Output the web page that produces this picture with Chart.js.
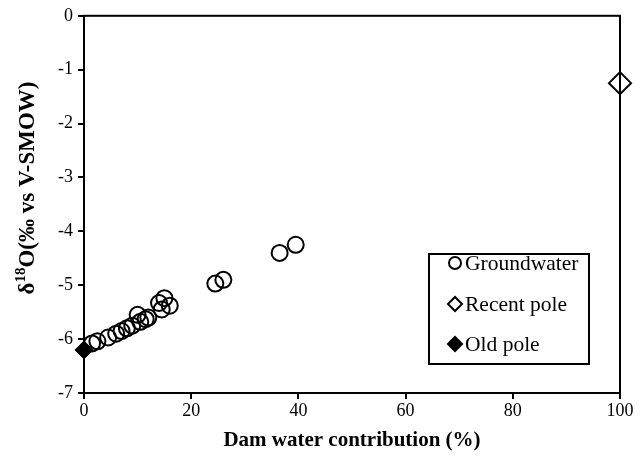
<!DOCTYPE html>
<html><head><meta charset="utf-8">
<script src="https://cdn.jsdelivr.net/npm/chart.js@4/dist/chart.umd.min.js"></script>
<style>html,body{margin:0;padding:0;background:#fff}</style>
</head><body>
<canvas id="c" width="644" height="456"></canvas>
<script>
const seriesLabels = ['Groundwater', 'Recent pole', 'Old pole'];
const groundwaterX = [1.5, 2.5, 4.5, 6, 7, 8, 9, 10, 10.5, 11.5, 12, 14, 14.5, 15, 16, 24.5, 26, 36.5, 39.5];
const groundwaterY = [-6.08, -6.04, -5.97, -5.9, -5.85, -5.8, -5.75, -5.55, -5.68, -5.63, -5.6, -5.33, -5.45, -5.24, -5.38, -4.97, -4.9, -4.4, -4.25];
const recentPoleX = [100];
const recentPoleY = [-1.25];
const oldPoleX = [0];
const oldPoleY = [-6.2];
const xTicks = [0, 20, 40, 60, 80, 100];
const yTicks = [0, -1, -2, -3, -4, -5, -6, -7];
const xTitle = 'Dam water contribution (%)';
const yTitleParts = ['δ', '18', 'O(‰ vs V-SMOW)'];

const toPts = (xs, ys) => xs.map((x, i) => ({x: x, y: ys[i]}));
const SERIF = '"Liberation Serif", "Times New Roman", serif';

const frameAndLegend = {
  id: 'frameAndLegend',
  afterDraw(chart) {
    const ctx = chart.ctx;
    const a = chart.chartArea;
    ctx.save();
    ctx.strokeStyle = '#000';
    ctx.lineWidth = 2;
    ctx.strokeRect(a.left, a.top, a.right - a.left, a.bottom - a.top);
    // y title with superscript
    ctx.translate(28, 188);
    ctx.rotate(-Math.PI / 2);
    ctx.fillStyle = '#000';
    ctx.textBaseline = 'middle';
    const big = 'bold 23px ' + SERIF, small = 'bold 15px ' + SERIF;
    ctx.font = big; const w1 = ctx.measureText(yTitleParts[0]).width;
    ctx.font = small; const w2 = ctx.measureText(yTitleParts[1]).width;
    ctx.font = big; const w3 = ctx.measureText(yTitleParts[2]).width;
    let x0 = -(w1 + w2 + w3) / 2;
    ctx.textAlign = 'left';
    ctx.font = big; ctx.fillText(yTitleParts[0], x0, 0); x0 += w1;
    ctx.font = small; ctx.fillText(yTitleParts[1], x0, -7); x0 += w2;
    ctx.font = big; ctx.fillText(yTitleParts[2], x0, 0);
    ctx.restore();

    // legend
    ctx.save();
    const bx = 429, by = 254, bw = 160, bh = 110;
    ctx.fillStyle = '#fff';
    ctx.fillRect(bx, by, bw, bh);
    ctx.strokeStyle = '#000';
    ctx.lineWidth = 2;
    ctx.strokeRect(bx, by, bw, bh);
    const rows = [263, 304, 344];
    chart.data.datasets.forEach((ds, i) => {
      const y = rows[i];
      ctx.strokeStyle = '#000';
      ctx.fillStyle = ds.legendFill;
      ctx.lineWidth = 2;
      Chart.helpers.drawPoint(ctx, {pointStyle: ds.pointStyle, radius: ds.legendRadius, borderWidth: 2, rotation: 0}, 455, y);
      ctx.fillStyle = '#000';
      ctx.font = '21.5px ' + SERIF;
      ctx.textAlign = 'left';
      ctx.textBaseline = 'middle';
      ctx.fillText(ds.label, 465, y + 1);
    });
    ctx.restore();
  }
};

new Chart(document.getElementById('c'), {
  type: 'scatter',
  data: {
    datasets: [
      {label: seriesLabels[0], data: toPts(groundwaterX, groundwaterY), pointStyle: 'circle', pointRadius: 8, pointHoverRadius: 8, borderWidth: 2, borderColor: '#000', backgroundColor: 'rgba(0,0,0,0)', clip: false, legendFill: '#fff', legendRadius: 6},
      {label: seriesLabels[1], data: toPts(recentPoleX, recentPoleY), pointStyle: 'rectRot', pointRadius: 11, pointHoverRadius: 11, borderWidth: 2, borderColor: '#000', backgroundColor: '#fff', clip: false, legendFill: '#fff', legendRadius: 7},
      {label: seriesLabels[2], data: toPts(oldPoleX, oldPoleY), pointStyle: 'rectRot', pointRadius: 9, pointHoverRadius: 9, borderWidth: 1, borderColor: '#000', backgroundColor: '#000', clip: false, legendFill: '#000', legendRadius: 7}
    ]
  },
  options: {
    responsive: false,
    animation: false,
    devicePixelRatio: 1,
    layout: {padding: {top: 13, right: 24, left: 0, bottom: 0}},
    plugins: {legend: {display: false}, tooltip: {enabled: false}},
    scales: {
      x: {
        type: 'linear', min: 0, max: 100,
        afterBuildTicks: s => { s.ticks = xTicks.map(v => ({value: v})); },
        afterFit: s => { s.height = 63; },
        grid: {drawOnChartArea: false, drawTicks: true, tickLength: 6, color: '#000', lineWidth: 2},
        border: {display: true, color: '#000', width: 2},
        ticks: {color: '#000', font: {family: SERIF, size: 18}, padding: 1, maxRotation: 0},
        title: {display: true, text: xTitle, color: '#000', font: {family: SERIF, size: 21, weight: 'bold'}, padding: {top: 0, bottom: 3}}
      },
      y: {
        type: 'linear', min: -7, max: 0,
        afterBuildTicks: s => { s.ticks = yTicks.slice().reverse().map(v => ({value: v})); },
        afterFit: s => { s.width = 84; },
        grid: {drawOnChartArea: false, drawTicks: true, tickLength: 6, color: '#000', lineWidth: 2},
        border: {display: true, color: '#000', width: 2},
        ticks: {color: '#000', font: {family: SERIF, size: 18}, padding: 5},
        title: {display: false}
      }
    }
  },
  plugins: [frameAndLegend]
});
</script>
</body></html>
